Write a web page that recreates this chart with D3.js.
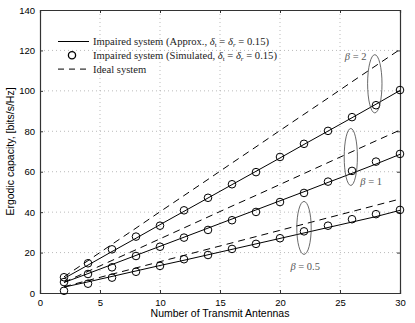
<!DOCTYPE html>
<html>
<head>
<meta charset="utf-8">
<script src="https://cdn.jsdelivr.net/npm/d3@7"></script>
<style>
  body { margin: 0; background: #fff; }
  svg { display: block; }
  .tick text { font-family: "Liberation Sans", Arial, sans-serif; font-size: 9.5px; fill: #000; }
  .serif { font-family: "Liberation Serif", "Times New Roman", serif; }
</style>
</head>
<body>
<svg id="chart"></svg>
<script>
// number of transmit antennas
var antennas = [2, 4, 6, 8, 10, 12, 14, 16, 18, 20, 22, 24, 26, 28, 30];

// ideal system (dashed)
var idealB2 = [8.0, 16.0, 24.1, 32.1, 40.2, 48.2, 56.2, 64.3, 72.3, 80.4, 88.4, 96.4, 104.5, 112.5, 120.5];
var idealB1 = [5.3, 10.7, 16.1, 21.4, 26.8, 32.2, 37.6, 43.0, 48.3, 53.7, 59.1, 64.5, 69.9, 75.3, 80.6];
var idealB05 = [3.1, 6.2, 9.3, 12.4, 15.5, 18.6, 21.7, 24.8, 27.9, 31.0, 34.1, 37.2, 40.3, 43.4, 46.5];

// impaired system, approximation (solid)
var approxB2 = [7.2, 13.8, 20.5, 27.1, 33.8, 40.4, 47.0, 53.6, 60.2, 66.8, 73.5, 80.1, 86.7, 93.4, 100.2];
var approxB1 = [5.2, 9.6, 14.1, 18.6, 23.1, 27.6, 32.1, 36.6, 41.1, 45.6, 50.1, 54.7, 59.2, 63.8, 68.6];
var approxB05 = [2.9, 5.5, 8.2, 10.9, 13.6, 16.2, 18.9, 21.6, 24.3, 27.0, 29.7, 32.4, 35.1, 37.8, 40.9];

// impaired system, simulated (circles)
var simB2 = [7.8, 14.7, 21.6, 27.9, 33.3, 40.9, 47.1, 53.8, 59.8, 67.3, 73.8, 80.2, 87.0, 92.9, 100.4];
var simB1 = [5.4, 9.4, 12.7, 18.3, 22.9, 27.4, 31.2, 36.0, 40.1, 45.0, 49.5, 55.1, 60.4, 65.0, 68.8];
var simB05 = [1.1, 4.6, 7.6, 10.5, 13.4, 16.7, 18.8, 21.8, 24.3, 27.1, 30.5, 33.3, 36.5, 39.0, 41.1];

var xTicks = [0, 5, 10, 15, 20, 25, 30];
var yTicks = [0, 20, 40, 60, 80, 100, 120, 140];

// beta groups: ellipse centre (data units), radii, label
var betaLabels = ["2", "1", "0.5"];
var betaCx = [27.9, 25.9, 22.0];
var betaCy = [103.5, 67.3, 32.2];
var betaRx = [0.6, 0.55, 0.6];
var betaRy = [14.4, 14.1, 13.1];
var betaTx = [26.3, 27.6, 22.1];
var betaTy = [115.5, 53.5, 11.5];

var W = 415, H = 323;
var margin = {top: 10, right: 15, bottom: 30, left: 40};
var w = W - margin.left - margin.right;
var h = H - margin.top - margin.bottom;

var svg = d3.select("#chart").attr("width", W).attr("height", H);
var g = svg.append("g").attr("transform", "translate(" + margin.left + "," + margin.top + ")");

var x = d3.scaleLinear().domain([0, 30]).range([0, w]);
var y = d3.scaleLinear().domain([0, 140]).range([h, 0]);

// grid
g.append("g").selectAll("line").data(xTicks.slice(1, -1)).enter().append("line")
	.attr("x1", function(d) { return x(d); }).attr("x2", function(d) { return x(d); })
	.attr("y1", 0).attr("y2", h)
	.attr("stroke", "#aaa").attr("stroke-width", 0.8).attr("stroke-dasharray", "1,3");
g.append("g").selectAll("line").data(yTicks.slice(1, -1)).enter().append("line")
	.attr("y1", function(d) { return y(d); }).attr("y2", function(d) { return y(d); })
	.attr("x1", 0).attr("x2", w)
	.attr("stroke", "#aaa").attr("stroke-width", 0.8).attr("stroke-dasharray", "1,3");

// axes
g.append("g").attr("transform", "translate(0," + h + ")")
	.call(d3.axisBottom(x).tickValues(xTicks).tickSize(-3).tickPadding(6));
g.append("g")
	.call(d3.axisLeft(y).tickValues(yTicks).tickSize(-3).tickPadding(5));
g.append("g")
	.call(d3.axisTop(x).tickValues(xTicks).tickSize(-3).tickFormat(""));
g.append("g").attr("transform", "translate(" + w + ",0)")
	.call(d3.axisRight(y).tickValues(yTicks).tickSize(-3).tickFormat(""));
g.selectAll(".domain").attr("stroke", "#333").attr("stroke-width", 1.2);
g.selectAll(".tick line").attr("stroke", "#333");

var line = d3.line()
	.x(function(d, i) { return x(antennas[i]); })
	.y(function(d) { return y(d); });

// ideal (dashed)
[idealB2, idealB1, idealB05].forEach(function(s) {
	g.append("path").datum(s).attr("d", line)
		.attr("fill", "none").attr("stroke", "#000").attr("stroke-width", 1)
		.attr("stroke-dasharray", "7,5");
});

// approx (solid)
[approxB2, approxB1, approxB05].forEach(function(s) {
	g.append("path").datum(s).attr("d", line)
		.attr("fill", "none").attr("stroke", "#000").attr("stroke-width", 1);
});

// simulated (circles)
[simB2, simB1, simB05].forEach(function(s) {
	g.append("g").selectAll("circle").data(s).enter().append("circle")
		.attr("cx", function(d, i) { return x(antennas[i]); })
		.attr("cy", function(d) { return y(d); })
		.attr("r", 3.8)
		.attr("fill", "none").attr("stroke", "#000").attr("stroke-width", 1);
});

// beta ellipses and labels
betaLabels.forEach(function(b, i) {
	g.append("ellipse")
		.attr("cx", x(betaCx[i])).attr("cy", y(betaCy[i]))
		.attr("rx", x(betaRx[i]) - x(0)).attr("ry", y(0) - y(betaRy[i]))
		.attr("fill", "none").attr("stroke", "#444").attr("stroke-width", 0.8);
	var t = g.append("text").attr("class", "serif")
		.attr("x", x(betaTx[i])).attr("y", y(betaTy[i]))
		.attr("text-anchor", "middle").attr("font-size", 10.5).attr("fill", "#555");
	t.append("tspan").attr("font-style", "italic").text("β");
	t.append("tspan").text(" = " + b);
});

// legend
var legend = g.append("g").attr("transform", "translate(18,31.5)");
var rowH = 13.8;
legend.append("line").attr("x1", 0).attr("x2", 31).attr("y1", 0).attr("y2", 0)
	.attr("stroke", "#000").attr("stroke-width", 1);
legend.append("circle").attr("cx", 14).attr("cy", rowH).attr("r", 3.6)
	.attr("fill", "none").attr("stroke", "#000").attr("stroke-width", 1.3);
legend.append("line").attr("x1", 0).attr("x2", 32).attr("y1", 2 * rowH).attr("y2", 2 * rowH)
	.attr("stroke", "#000").attr("stroke-width", 1).attr("stroke-dasharray", "6,5");

function legendText(row, pre, withDelta) {
	var t = legend.append("text").attr("class", "serif")
		.attr("x", 35).attr("y", row * rowH + 3.5).attr("font-size", 10.6).attr("fill", "#222");
	t.append("tspan").text(pre);
	if (withDelta) {
		t.append("tspan").attr("font-style", "italic").text("δ");
		t.append("tspan").attr("font-size", 7).attr("dy", 2).text("t");
		t.append("tspan").attr("dy", -2).text(" = ");
		t.append("tspan").attr("font-style", "italic").text("δ");
		t.append("tspan").attr("font-size", 7).attr("font-style", "italic").attr("dy", 2).text("r");
		t.append("tspan").attr("dy", -2).text(" = 0.15)");
	}
}
legendText(0, "Impaired system (Approx., ", true);
legendText(1, "Impaired system (Simulated, ", true);
legendText(2, "Ideal system", false);

// axis labels
svg.append("text")
	.attr("x", margin.left + w / 2).attr("y", 317)
	.attr("text-anchor", "middle")
	.style("font-family", "Liberation Sans, Arial, sans-serif").style("font-size", "10.5px")
	.text("Number of Transmit Antennas");
svg.append("text")
	.attr("transform", "translate(14," + (margin.top + h / 2) + ") rotate(-90)")
	.attr("text-anchor", "middle")
	.style("font-family", "Liberation Sans, Arial, sans-serif").style("font-size", "10.5px")
	.text("Ergodic capacity, [bits/s/Hz]");
</script>
</body>
</html>
